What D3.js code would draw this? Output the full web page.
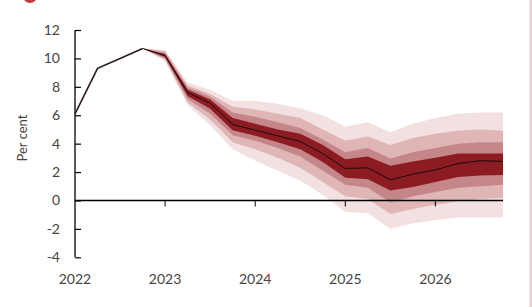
<!DOCTYPE html>
<html>
<head>
<meta charset="utf-8">
<script src="https://cdn.jsdelivr.net/npm/d3@7"></script>
<style>
  html, body { margin: 0; padding: 0; background: #fff; }
  svg { display: block; }
  text { font-family: Lato, "Open Sans", sans-serif; }
</style>
</head>
<body>
<div class="chart"></div>
<script>
// quarters 2022Q1 .. 2026Q4
const quarters = ["2022Q1","2022Q2","2022Q3","2022Q4","2023Q1","2023Q2","2023Q3","2023Q4",
  "2024Q1","2024Q2","2024Q3","2024Q4","2025Q1","2025Q2","2025Q3","2025Q4",
  "2026Q1","2026Q2","2026Q3","2026Q4"];
const central = [6.1, 9.3, 10.0, 10.7, 10.2, 7.6, 6.85, 5.35, 4.95, 4.55, 4.15, 3.3,
  2.25, 2.3, 1.45, 1.85, 2.15, 2.6, 2.8, 2.75];

// fan starts at 2022Q4
const fanStart = 3;
const lo90 = [10.7, 9.8, 6.7, 5.3, 3.6, 2.8, 2.1, 1.4, 0.4, -0.8, -0.9, -2.0, -1.6, -1.4, -1.2, -1.2, -1.2];
const hi90 = [10.7, 10.6, 8.3, 7.8, 7.0, 7.0, 6.8, 6.5, 6.0, 5.2, 5.5, 4.8, 5.4, 5.8, 6.1, 6.2, 6.2];
const lo70 = [10.7, 9.9, 6.9, 5.7, 4.1, 3.6, 3.0, 2.3, 1.3, 0.3, 0.1, -0.95, -0.6, -0.3, -0.05, 0.1, 0.2];
const hi70 = [10.7, 10.5, 8.1, 7.5, 6.6, 6.4, 6.1, 5.8, 5.0, 4.2, 4.5, 3.9, 4.4, 4.7, 4.9, 5.0, 4.9];
const lo50 = [10.7, 10.0, 7.15, 6.1, 4.6, 4.2, 3.7, 3.1, 2.1, 1.1, 0.9, -0.15, 0.3, 0.6, 0.9, 1.0, 1.1];
const hi50 = [10.7, 10.4, 7.95, 7.3, 6.2, 5.9, 5.5, 5.1, 4.3, 3.4, 3.7, 2.95, 3.4, 3.7, 4.0, 4.1, 4.1];
const lo30 = [10.7, 10.1, 7.35, 6.45, 4.95, 4.55, 4.1, 3.6, 2.7, 1.6, 1.5, 0.7, 0.95, 1.3, 1.65, 1.75, 1.8];
const hi30 = [10.7, 10.3, 7.8, 7.1, 5.8, 5.4, 5.0, 4.7, 3.9, 2.9, 3.1, 2.45, 2.75, 3.0, 3.3, 3.3, 3.3];

const yTicks = [-4, -2, 0, 2, 4, 6, 8, 10, 12];
const xTicks = [2022, 2023, 2024, 2025, 2026];

const W = 532, H = 307;
const toYear = q => +q.slice(0, 4) + (+q.slice(5) - 1) / 4;

const x = d3.scaleLinear().domain([2022, 2026.75]).range([75, 503]);
const y = d3.scaleLinear().domain([-4, 12]).range([257.3, 30]);

const svg = d3.select('.chart').append('svg')
    .attr('width', W)
    .attr('height', H);

// soft edge like the scanned original
svg.append('defs').append('filter').attr('id', 'soft')
    .append('feGaussianBlur').attr('stdDeviation', 0.6);

// red marker peeking in at top left
svg.append('circle').attr('cx', 30).attr('cy', -4).attr('r', 7).attr('fill', '#c23b3b');
// pink frame on right edge
svg.append('rect').attr('x', 529.5).attr('y', 0).attr('width', 3).attr('height', H).attr('fill', '#ead0cf');

// fan bands, outermost first
const fanQ = quarters.slice(fanStart);
const bands = [
    { lo: lo90, hi: hi90, color: '#f3e0e0' },
    { lo: lo70, hi: hi70, color: '#dfb5b6' },
    { lo: lo50, hi: hi50, color: '#c5868a' },
    { lo: lo30, hi: hi30, color: '#8c1b20' }
];
const area = d3.area()
    .x(d => x(d.t))
    .y0(d => y(d.lo))
    .y1(d => y(d.hi));

svg.append('g')
    .attr('filter', 'url(#soft)')
    .selectAll('path')
    .data(bands)
    .join('path')
    .attr('fill', d => d.color)
    .attr('d', b => area(fanQ.map((q, i) => ({ t: toYear(q), lo: b.lo[i], hi: b.hi[i] }))));

// zero line with year ticks
svg.append('line')
    .attr('x1', x(2022)).attr('x2', x(2026.75))
    .attr('y1', y(0)).attr('y2', y(0))
    .attr('stroke', '#000').attr('stroke-width', 1.5);
svg.append('g')
    .selectAll('line')
    .data(xTicks.slice(1))
    .join('line')
    .attr('x1', d => x(d)).attr('x2', d => x(d))
    .attr('y1', y(0)).attr('y2', y(0) + 6)
    .attr('stroke', '#000').attr('stroke-width', 1);

// y axis, ticks pointing inward
const yAxis = svg.append('g')
    .attr('transform', `translate(${x(2022)},0)`)
    .call(d3.axisRight(y).tickValues(yTicks).tickSize(6).tickFormat(''));
yAxis.select('.domain').attr('stroke', '#000').attr('stroke-width', 1.3).attr('d', `M0,${y(12)}V${y(-4)}`);
yAxis.selectAll('.tick line').attr('stroke', '#000').attr('stroke-width', 1.2);

svg.append('g')
    .selectAll('text')
    .data(yTicks)
    .join('text')
    .attr('x', 60)
    .attr('y', d => y(d))
    .attr('dy', '0.35em')
    .attr('text-anchor', 'end')
    .attr('fill', '#444')
    .attr('font-size', 14)
    .text(d => d);

svg.append('g')
    .selectAll('text')
    .data(xTicks)
    .join('text')
    .attr('x', d => x(d))
    .attr('y', 279)
    .attr('dy', '0.35em')
    .attr('text-anchor', 'middle')
    .attr('fill', '#444')
    .attr('font-size', 14)
    .text(d => d);

svg.append('text')
    .attr('transform', 'translate(27,138) rotate(-90)')
    .attr('text-anchor', 'middle')
    .attr('fill', '#444')
    .attr('font-size', 13)
    .text('Per cent');

// central projection / outturn line
const line = d3.line()
    .x((d, i) => x(toYear(quarters[i])))
    .y(d => y(d));
svg.append('path')
    .attr('d', line(central.slice(0, fanStart + 1)))
    .attr('fill', 'none')
    .attr('stroke', '#2a1a1c')
    .attr('stroke-width', 1.6);
svg.append('path')
    .attr('d', d3.line()
        .x((d, i) => x(toYear(quarters[i + fanStart])))
        .y(d => y(d))(central.slice(fanStart)))
    .attr('fill', 'none')
    .attr('stroke', '#1a0a0a')
    .attr('stroke-width', 1);
</script>
</body>
</html>
